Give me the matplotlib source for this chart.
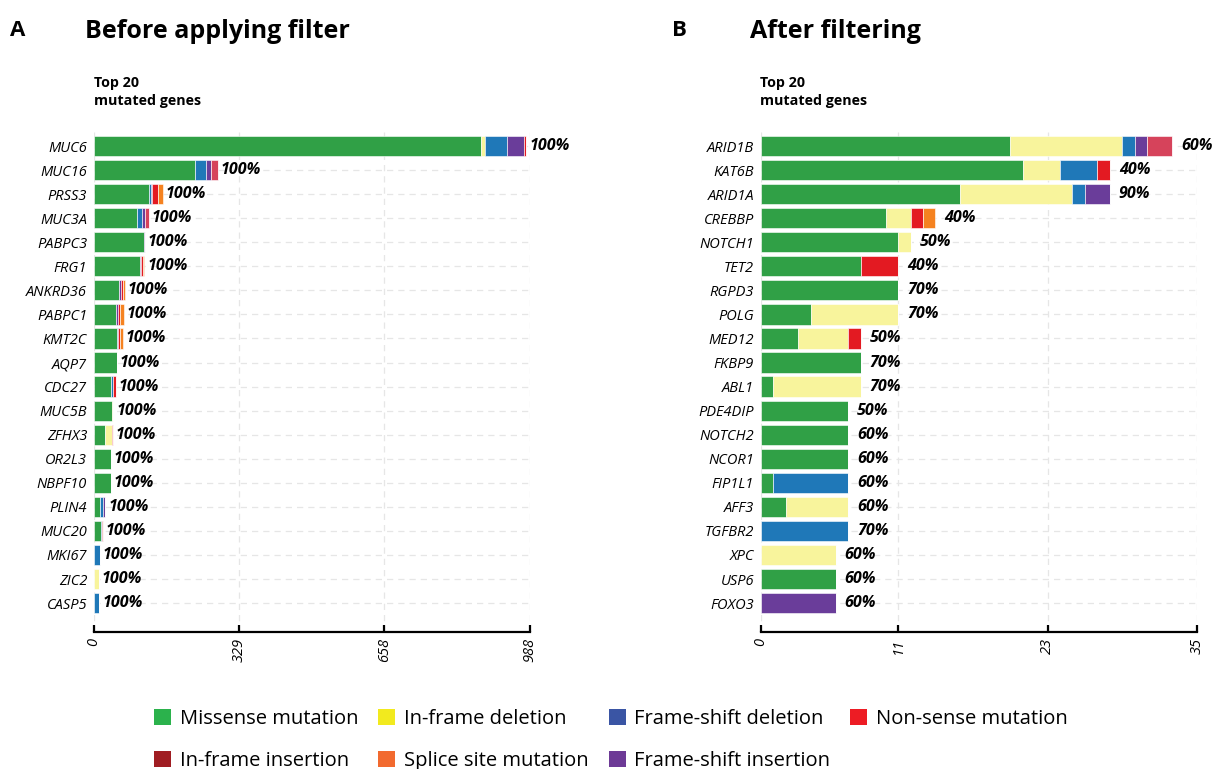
import numpy as np
import matplotlib
matplotlib.use("Agg")
import matplotlib.pyplot as plt
from matplotlib.patches import Patch

plt.rcParams['font.family'] = ['Open Sans', 'DejaVu Sans']

# categories (legend order, row by row)
categories = ['Missense mutation', 'In-frame deletion', 'Frame-shift deletion',
              'Non-sense mutation', 'In-frame insertion', 'Splice site mutation',
              'Frame-shift insertion']

# panel A: before filtering
genes_a = ['MUC6', 'MUC16', 'PRSS3', 'MUC3A', 'PABPC3', 'FRG1', 'ANKRD36', 'PABPC1',
           'KMT2C', 'AQP7', 'CDC27', 'MUC5B', 'ZFHX3', 'OR2L3', 'NBPF10', 'PLIN4',
           'MUC20', 'MKI67', 'ZIC2', 'CASP5']
a_missense = [877, 229, 125, 97, 113, 104, 57, 50, 51, 51, 38, 41, 26, 38, 38, 14, 15, 0, 1, 0]
a_inframe_del = [8, 0, 0, 0, 0, 0, 0, 0, 0, 0, 0, 3, 14, 0, 0, 0, 0, 0, 10, 0]
a_fs_del = [50, 24, 4, 11, 0, 0, 0, 0, 4, 0, 4, 0, 0, 0, 0, 6, 2, 14, 0, 12]
a_fs_ins = [40, 12, 3, 8, 2, 3, 4, 5, 0, 0, 0, 0, 0, 0, 0, 6, 0, 0, 0, 0]
a_nonsense = [3, 0, 12, 0, 0, 5, 4, 5, 5, 0, 8, 0, 3, 0, 0, 0, 3, 0, 0, 0]
a_inframe_ins = [0, 15, 0, 9, 0, 0, 0, 0, 0, 0, 0, 0, 0, 0, 0, 0, 0, 0, 0, 0]
a_splice = [2, 0, 12, 0, 0, 2, 5, 8, 5, 0, 0, 0, 0, 0, 0, 0, 0, 0, 0, 0]
a_pct = ['100%'] * 20
a_ticks = [0, 329, 658, 988]

# panel B: after filtering
genes_b = ['ARID1B', 'KAT6B', 'ARID1A', 'CREBBP', 'NOTCH1', 'TET2', 'RGPD3', 'POLG',
           'MED12', 'FKBP9', 'ABL1', 'PDE4DIP', 'NOTCH2', 'NCOR1', 'FIP1L1', 'AFF3',
           'TGFBR2', 'XPC', 'USP6', 'FOXO3']
b_missense = [20, 21, 16, 10, 11, 8, 11, 4, 3, 8, 1, 7, 7, 7, 1, 2, 0, 0, 6, 0]
b_inframe_del = [9, 3, 9, 2, 1, 0, 0, 7, 4, 0, 7, 0, 0, 0, 0, 5, 0, 6, 0, 0]
b_fs_del = [1, 3, 1, 0, 0, 0, 0, 0, 0, 0, 0, 0, 0, 0, 6, 0, 7, 0, 0, 0]
b_fs_ins = [1, 0, 2, 0, 0, 0, 0, 0, 0, 0, 0, 0, 0, 0, 0, 0, 0, 0, 0, 6]
b_nonsense = [0, 1, 0, 1, 0, 3, 0, 0, 1, 0, 0, 0, 0, 0, 0, 0, 0, 0, 0, 0]
b_inframe_ins = [2, 0, 0, 0, 0, 0, 0, 0, 0, 0, 0, 0, 0, 0, 0, 0, 0, 0, 0, 0]
b_splice = [0, 0, 0, 1, 0, 0, 0, 0, 0, 0, 0, 0, 0, 0, 0, 0, 0, 0, 0, 0]
b_pct = ['60%', '40%', '90%', '40%', '50%', '40%', '70%', '70%', '50%', '70%',
         '70%', '50%', '60%', '60%', '60%', '60%', '70%', '60%', '60%', '60%']
b_ticks = [0, 11, 23, 35]

# colours: bars and legend swatches
bar_col = {'Missense mutation': '#30a046', 'In-frame deletion': '#f8f49c',
           'Frame-shift deletion': '#1f78b8', 'Frame-shift insertion': '#6a3d9a',
           'Non-sense mutation': '#e31a22', 'In-frame insertion': '#d6435b',
           'Splice site mutation': '#f58220'}
leg_col = {'Missense mutation': '#2bb24c', 'In-frame deletion': '#f2ea1e',
           'Frame-shift deletion': '#3a55a4', 'Non-sense mutation': '#ed1c24',
           'In-frame insertion': '#a01d22', 'Splice site mutation': '#f26a2f',
           'Frame-shift insertion': '#6d3a96'}


def draw_panel(ax, genes, series, pct, ticks, gap):
    y = np.arange(len(genes))
    left = np.zeros(len(genes))
    for name, vals in series:
        vals = np.array(vals, dtype=float)
        ax.barh(y, vals, left=left, height=0.84, color=bar_col[name],
                edgecolor='white', linewidth=0.4, zorder=2)
        left += vals
    for yi, tot, lab in zip(y, left, pct):
        ax.annotate(lab, (tot, yi), xytext=(gap, 0), textcoords='offset points',
                    va='center', ha='left', fontsize=11.5, fontweight='bold',
                    fontstyle='italic', annotation_clip=False)
    ax.set_yticks(y)
    ax.set_yticklabels(genes, fontstyle='italic', fontsize=10.5)
    ax.set_ylim(20.2, -0.6)
    ax.set_xlim(0, ticks[-1])
    ax.set_xticks(ticks)
    ax.set_xticklabels([str(t) for t in ticks], rotation=90, fontstyle='italic',
                       fontsize=10.5)
    for s in ['top', 'right', 'left']:
        ax.spines[s].set_visible(False)
    ax.spines['bottom'].set_linewidth(1.6)
    ax.tick_params(axis='y', length=0, pad=5)
    ax.tick_params(axis='x', direction='in', length=5, width=1.6, pad=4)
    ax.grid(True, axis='both', linestyle=(0, (5, 4)), color='#e6e6e6', linewidth=0.9,
            zorder=0)
    ax.set_axisbelow(True)


fig = plt.figure(figsize=(12.13, 7.69), dpi=100)
ax_a = fig.add_axes([0.0775, 0.1782, 0.3594, 0.6507])
ax_b = fig.add_axes([0.6274, 0.1782, 0.3594, 0.6507])

order = ['Missense mutation', 'In-frame deletion', 'Frame-shift deletion',
         'Frame-shift insertion', 'Non-sense mutation', 'In-frame insertion',
         'Splice site mutation']
series_a = dict(zip(order, [a_missense, a_inframe_del, a_fs_del, a_fs_ins,
                            a_nonsense, a_inframe_ins, a_splice]))
series_b = dict(zip(order, [b_missense, b_inframe_del, b_fs_del, b_fs_ins,
                            b_nonsense, b_inframe_ins, b_splice]))

draw_panel(ax_a, genes_a, [(k, series_a[k]) for k in order], a_pct, a_ticks, 2)
draw_panel(ax_b, genes_b, [(k, series_b[k]) for k in order], b_pct, b_ticks, 6.5)

# titles
fig.text(10 / 1213, 1 - 30 / 769, 'A', fontsize=16, fontweight='bold', va='center')
fig.text(85 / 1213, 1 - 31 / 769, 'Before applying filter', fontsize=18,
         fontweight='bold', va='center')
fig.text(672 / 1213, 1 - 30 / 769, 'B', fontsize=16, fontweight='bold', va='center')
fig.text(750 / 1213, 1 - 31 / 769, 'After filtering', fontsize=18,
         fontweight='bold', va='center')
for x in [94, 760]:
    fig.text(x / 1213, 1 - 92 / 769, 'Top 20\nmutated genes', fontsize=10.3,
             fontweight='bold', va='center', linespacing=1.45)

# legend, column-major order so rows read as in the original
leg_order = ['Missense mutation', 'In-frame insertion', 'In-frame deletion',
             'Splice site mutation', 'Frame-shift deletion', 'Frame-shift insertion',
             'Non-sense mutation']
handles = [Patch(facecolor=leg_col[c], edgecolor='none', label=c) for c in leg_order]
fig.legend(handles=handles, ncol=4, loc='lower left', bbox_to_anchor=(154 / 1213, -0.002),
           frameon=False, fontsize=14.5, handlelength=0.85, handleheight=0.85,
           handletextpad=0.42, columnspacing=1.0, labelspacing=1.05,
           borderaxespad=0, borderpad=0)

fig.savefig('out.png', dpi=100)
